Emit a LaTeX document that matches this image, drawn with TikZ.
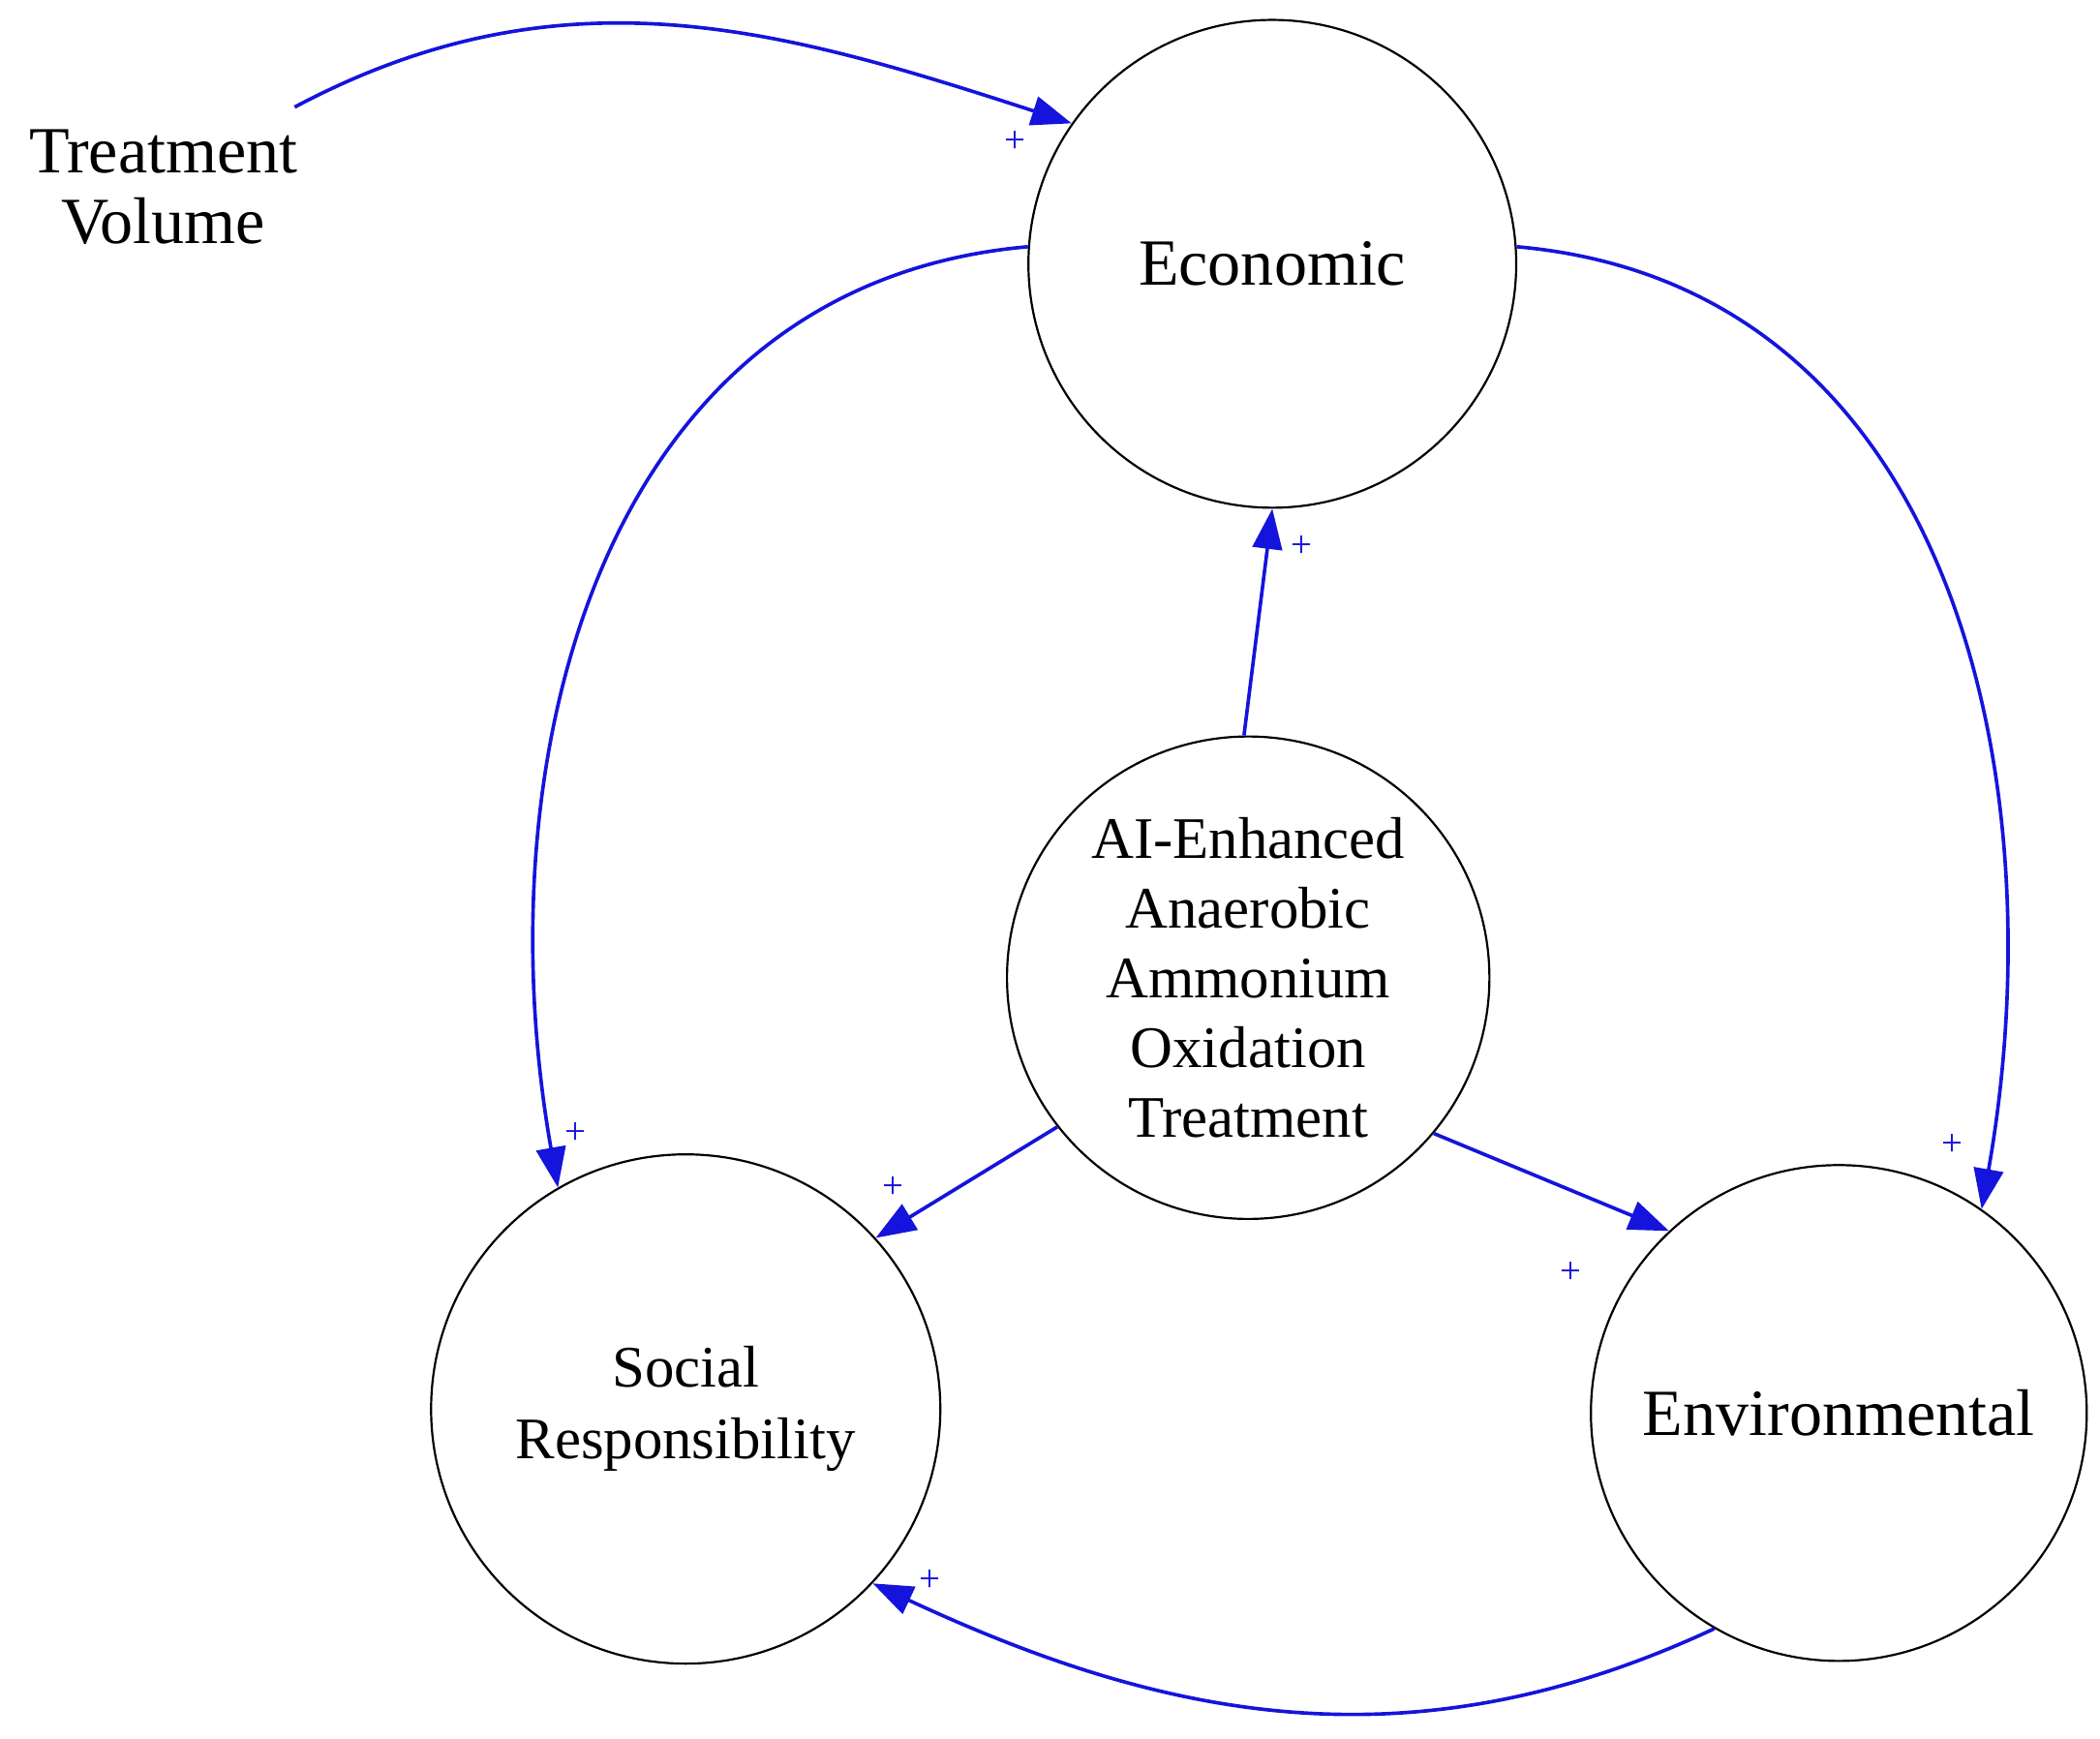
\documentclass[tikz,border=0pt]{standalone}
\usepackage{fontspec}
\setmainfont{Liberation Serif}
\usetikzlibrary{arrows.meta}
\definecolor{lb}{RGB}{20,20,220}
\begin{document}
\begin{tikzpicture}[x=0.01cm,y=0.01cm,
  circ/.style={circle,draw=black,line width=0.45pt,inner sep=0pt,align=center},
  link/.style={draw=lb,line width=0.75pt,-{Triangle[length=3mm,width=2.2mm]}},
  pl/.style={text=lb,font=\fontsize{8}{9}\selectfont}]
\useasboundingbox (0,0) rectangle (1568,1298);
\node[circ,minimum size=3.64cm,font=\fontsize{14}{16}\selectfont] (eco) at (950,1101) {Economic};
\node[circ,minimum size=3.6cm,font=\fontsize{12.5}{14.8}\selectfont] (ai) at (932,568) {AI-Enhanced\\Anaerobic\\Ammonium\\Oxidation\\Treatment};
\node[circ,minimum size=3.8cm,font=\fontsize{12.5}{15.3}\selectfont] (soc) at (512,246) {Social\\Responsibility};
\node[circ,minimum size=3.7cm,font=\fontsize{14}{16}\selectfont] (env) at (1373,243) {Environmental};
\node[align=center,font=\fontsize{14}{15}\selectfont] (tv) at (122,1158) {Treatment\\Volume};
\coordinate (tvs) at (220,1218);
\draw[link] (tvs) to[out=28,in=162] (eco.145);
\draw[link] (eco.176) to[out=185,in=100,looseness=1.05] (soc.120);
\draw[link] (eco.4) to[out=-5,in=80,looseness=1.05] (env.55);
\draw[link] (ai.91) -- (eco.270);
\draw[link] (ai.218) -- (soc.42);
\draw[link] (ai.320) -- (env.133);
\draw[link] (env.240) to[out=205,in=-25] (soc.-43);
\node[pl] (p1) at (758,1192) {+};
\node[pl] (p2) at (972,890) {+};
\node[pl] (p3) at (430,452) {+};
\node[pl] (p4) at (667,411) {+};
\node[pl] (p5) at (1173,348) {+};
\node[pl] (p6) at (1458,443) {+};
\node[pl] (p7) at (694,118) {+};
\end{tikzpicture}
\end{document}
